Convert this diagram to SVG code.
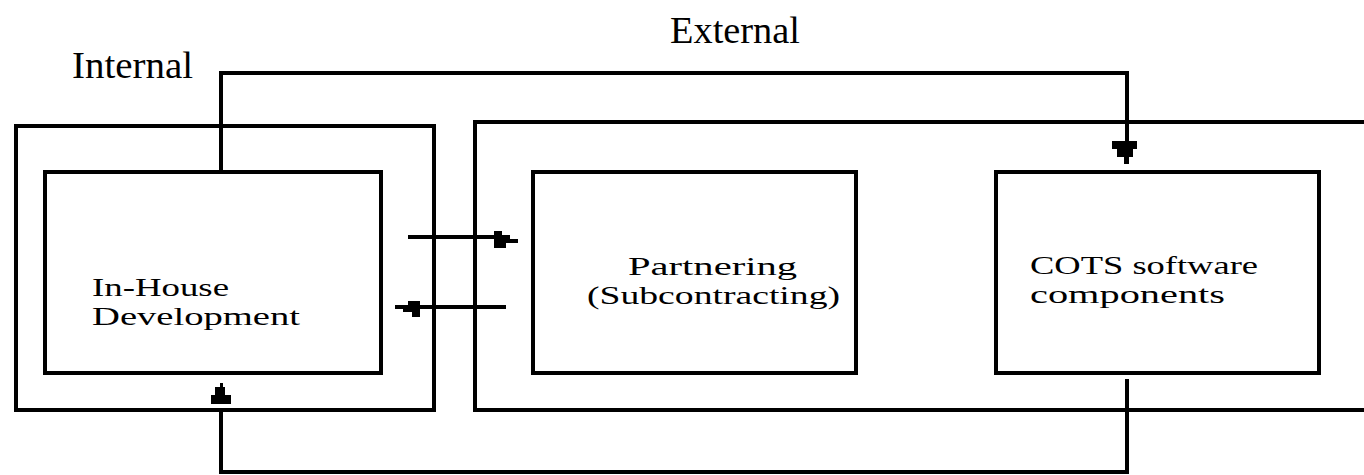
<svg xmlns="http://www.w3.org/2000/svg" width="1364" height="475" viewBox="0 0 1364 475">
  <style>
    .box { fill: none; stroke: #000; stroke-width: 4; }
    .wire { fill: none; stroke: #000; stroke-width: 4; }
    .head { fill: #000; stroke: none; }
    .label { font-family: "Liberation Serif", "Times New Roman", serif; fill: #000; }
    .big { font-size: 38px; }
    .small { font-size: 26px; }
  </style>
  <rect width="1364" height="475" fill="#fff"/>

  <!-- group captions -->
  <text class="label big" x="670" y="43" textLength="130" lengthAdjust="spacingAndGlyphs">External</text>
  <text class="label big" x="72" y="78" textLength="121" lengthAdjust="spacingAndGlyphs">Internal</text>

  <!-- outer frames -->
  <g id="internal-frame">
    <rect class="box" x="16" y="126" width="418" height="284"/>
  </g>
  <g id="external-frame">
    <path class="box" d="M1370,122 H475 V410 H1370"/>
  </g>

  <!-- nodes -->
  <g id="in-house">
    <rect class="box" x="45" y="172" width="336" height="201"/>
    <text class="label small" x="92" y="296" textLength="137" lengthAdjust="spacingAndGlyphs">In-House</text>
    <text class="label small" x="92" y="325" textLength="208" lengthAdjust="spacingAndGlyphs">Development</text>
  </g>
  <g id="partnering">
    <rect class="box" x="533" y="172" width="323" height="201"/>
    <text class="label small" x="628" y="275" textLength="169" lengthAdjust="spacingAndGlyphs">Partnering</text>
    <text class="label small" x="587" y="304" textLength="253" lengthAdjust="spacingAndGlyphs">(Subcontracting)</text>
  </g>
  <g id="cots">
    <rect class="box" x="996" y="172" width="323" height="201"/>
    <text class="label small" x="1030" y="274" textLength="228" lengthAdjust="spacingAndGlyphs">COTS software</text>
    <text class="label small" x="1030" y="303" textLength="195" lengthAdjust="spacingAndGlyphs">components</text>
  </g>

  <!-- connectors -->
  <g id="connectors">
    <!-- in-house to COTS, over the top -->
    <path class="wire" d="M221,172 V73 H1127 V143"/>
    <path class="head" d="M1112,141 H1137 V149 H1133 V157 H1129 V164 H1124 V157 H1117 V149 H1112 Z"/>

    <!-- in-house to partnering -->
    <path class="wire" d="M408,237 H496"/>
    <path class="head" d="M494,231 H502 V235 H510 V239 H518 V243 H506 V248 H494 Z"/>

    <!-- partnering to in-house -->
    <path class="wire" d="M506,307 H418"/>
    <path class="head" d="M420,301 V317 H412 V312 H403 V309 H395 V305 H408 V301 Z"/>

    <!-- COTS back to in-house, underneath -->
    <path class="wire" d="M1127,379 V472 H221 V410"/>
    <path class="head" d="M220,383 H223 V387 H225 V395 H231 V404 H211 V395 H215 V387 H220 Z"/>
  </g>
</svg>
